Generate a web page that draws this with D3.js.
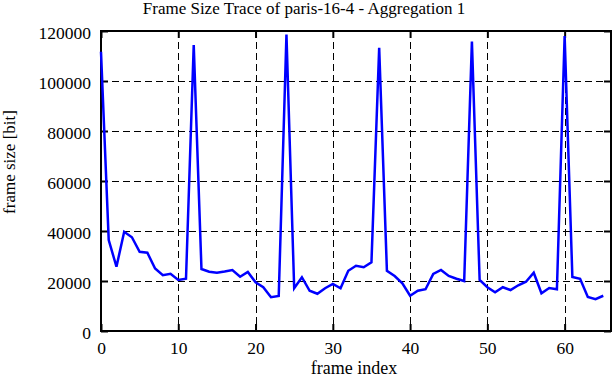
<!DOCTYPE html>
<html><head><meta charset="utf-8">
<script src="https://cdn.jsdelivr.net/npm/d3@7"></script>
<style>body{margin:0;background:#fff}svg{display:block}text{font-family:"Liberation Serif","Times New Roman",serif;fill:#000}</style>
</head><body>
<script>
const titleText = "Frame Size Trace of paris-16-4 - Aggregation 1";
const xLabel = "frame index";
const yLabel = "frame size [bit]";
const xTicks = [0, 10, 20, 30, 40, 50, 60];
const yTicks = [0, 20000, 40000, 60000, 80000, 100000, 120000];
const frameSizes = [
  111700, 36400, 25700, 39700, 37500, 31700, 31300, 25000, 22300, 22900,
  20400, 20900, 114400, 24800, 23700, 23300, 23800, 24400, 21700, 23600,
  19500, 17500, 13500, 14000, 118600, 17100, 21500, 16100, 14900, 17100,
  18800, 17100, 24100, 26100, 25500, 27500, 113300, 24100, 22000, 19100,
  14100, 16100, 16700, 22800, 24400, 22000, 20900, 20000, 115800, 20400,
  17500, 15500, 17500, 16400, 18300, 19700, 23300, 15100, 17200, 16700,
  118000, 21600, 20900, 13600, 12700, 14100
];
const frameIndex = frameSizes.map((d, i) => i);

const W = 612, H = 382;
const m = {left: 101, right: 1, top: 31, bottom: 51};
const iw = W - m.left - m.right, ih = H - m.top - m.bottom;

const svg = d3.select("body").append("svg").attr("width", W).attr("height", H);
const g = svg.append("g").attr("transform", `translate(${m.left},${m.top})`);

const x = d3.scaleLinear().domain([0, 66]).range([0, iw]);
const y = d3.scaleLinear().domain([0, 120000]).range([ih, 0]);

// grid
g.append("g").selectAll("line").data(xTicks.filter(d => d > 0)).join("line")
  .attr("x1", d => Math.round(x(d)) + 0.5).attr("x2", d => Math.round(x(d)) + 0.5).attr("y1", 0).attr("y2", ih)
  .attr("stroke", "#000").attr("stroke-width", 1).attr("stroke-dasharray", "7,4")
  .attr("shape-rendering", "crispEdges");
g.append("g").selectAll("line").data(yTicks.filter(d => d > 0 && d < 120000)).join("line")
  .attr("y1", d => Math.round(y(d)) + 0.5).attr("y2", d => Math.round(y(d)) + 0.5).attr("x1", 0).attr("x2", iw)
  .attr("stroke", "#000").attr("stroke-width", 1).attr("stroke-dasharray", "7,4")
  .attr("shape-rendering", "crispEdges");

// axes (inward ticks, mirrored)
const tl = 7;
const xb = g.append("g").attr("transform", `translate(0,${ih})`)
  .call(d3.axisBottom(x).tickValues(xTicks).tickSize(-tl).tickPadding(tl + 10).tickFormat(d3.format("d")));
const xt = g.append("g").call(d3.axisTop(x).tickValues(xTicks).tickSize(-tl).tickFormat(""));
const yl = g.append("g")
  .call(d3.axisLeft(y).tickValues(yTicks).tickSize(-tl).tickPadding(tl + 10).tickFormat(d3.format("d")));
const yr = g.append("g").attr("transform", `translate(${iw},0)`)
  .call(d3.axisRight(y).tickValues(yTicks).tickSize(-tl).tickFormat(""));
[xb, xt, yl, yr].forEach(a => {
  a.select(".domain").remove();
  a.selectAll(".tick line").attr("stroke", "#000").attr("stroke-width", 2);
  a.selectAll("text").style("font-size", "17.5px").attr("fill", "#000");
});
xb.selectAll("text").attr("dy", null).attr("y", 23);
yl.selectAll("text").attr("dy", null).attr("y", 7).attr("x", -10);

// frame
g.append("rect").attr("x", 0).attr("y", 0).attr("width", iw).attr("height", ih)
  .attr("fill", "none").attr("stroke", "#000").attr("stroke-width", 2);

// line
const line = d3.line().x((d, i) => x(frameIndex[i])).y(d => y(d));
g.append("path").datum(frameSizes).attr("d", line)
  .attr("fill", "none").attr("stroke", "#0000ff").attr("stroke-width", 2.5).attr("stroke-linejoin", "miter");

// labels
svg.append("text").attr("x", 304).attr("y", 14).attr("text-anchor", "middle")
  .style("font-size", "17px").text(titleText);
svg.append("text").attr("x", 354).attr("y", 374).attr("text-anchor", "middle")
  .style("font-size", "18px").text(xLabel);
svg.append("text").attr("transform", "translate(15,162) rotate(-90)").attr("text-anchor", "middle")
  .style("font-size", "17px").text(yLabel);
</script>
</body></html>
